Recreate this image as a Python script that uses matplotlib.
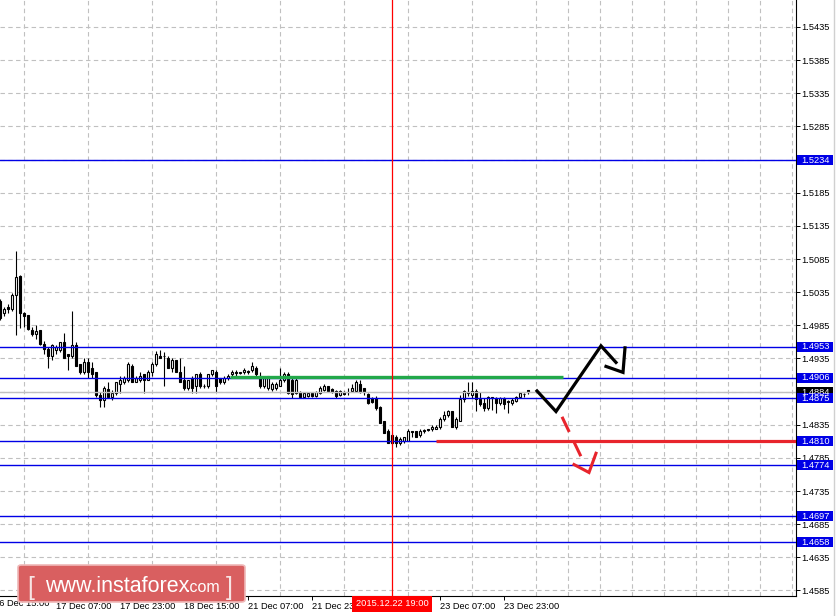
import matplotlib
matplotlib.use("Agg")
import matplotlib.pyplot as plt
import matplotlib.patches as patches
from matplotlib.lines import Line2D
from matplotlib.transforms import blended_transform_factory

plt.rcParams['font.family'] = ['Liberation Sans', 'DejaVu Sans']

# H1 candles, bar 0 = 16 Dec 17:00
opens = [1.5022, 1.5004, 1.5013, 1.5009, 1.5031, 1.5060, 1.5004, 1.5001, 1.4978, 1.4972,
         1.4978, 1.4957, 1.4950, 1.4939, 1.4948, 1.4948, 1.4960, 1.4941, 1.4939, 1.4956,
         1.4926, 1.4914, 1.4929, 1.4921, 1.4914, 1.4880, 1.4873, 1.4889, 1.4877, 1.4883,
         1.4896, 1.4900, 1.4903, 1.4924, 1.4900, 1.4902, 1.4911, 1.4903, 1.4914, 1.4926,
         1.4939, 1.4939, 1.4936, 1.4920, 1.4932, 1.4915, 1.4903, 1.4891, 1.4905, 1.4893,
         1.4912, 1.4894, 1.4893, 1.4912, 1.4915, 1.4905, 1.4899, 1.4905, 1.4911, 1.4914,
         1.4913, 1.4914, 1.4916, 1.4917, 1.4921, 1.4908, 1.4894, 1.4891, 1.4889, 1.4891,
         1.4894, 1.4903, 1.4912, 1.4903, 1.4883, 1.4885, 1.4877, 1.4879, 1.4883, 1.4879,
         1.4883, 1.4888, 1.4893, 1.4889, 1.4886, 1.4880, 1.4885, 1.4885, 1.4886, 1.4886,
         1.4897, 1.4891, 1.4882, 1.4876, 1.4876, 1.4862, 1.4840, 1.4826, 1.4819, 1.4817,
         1.4808, 1.4811, 1.4811, 1.4825, 1.4825, 1.4819, 1.4826, 1.4828, 1.4829, 1.4829,
         1.4832, 1.4844, 1.4850, 1.4855, 1.4832, 1.4841, 1.4874, 1.4884, 1.4880, 1.4886,
         1.4874, 1.4868, 1.4861, 1.4877, 1.4876, 1.4868, 1.4876, 1.4871, 1.4868, 1.4871,
         1.4877, 1.4882, 1.4887]
highs = [1.5025, 1.5013, 1.5017, 1.5034, 1.5097, 1.5061, 1.5005, 1.5001, 1.4983, 1.4986,
         1.4978, 1.4962, 1.4953, 1.4957, 1.4956, 1.4960, 1.4974, 1.4942, 1.5007, 1.4960,
         1.4927, 1.4936, 1.4936, 1.4930, 1.4915, 1.4885, 1.4893, 1.4899, 1.4888, 1.4900,
         1.4908, 1.4909, 1.4929, 1.4927, 1.4908, 1.4914, 1.4912, 1.4917, 1.4929, 1.4947,
         1.4948, 1.4945, 1.4938, 1.4935, 1.4933, 1.4936, 1.4923, 1.4903, 1.4908, 1.4912,
         1.4915, 1.4896, 1.4912, 1.4918, 1.4917, 1.4906, 1.4908, 1.4912, 1.4918, 1.4917,
         1.4915, 1.4920, 1.4918, 1.4929, 1.4923, 1.4914, 1.4908, 1.4909, 1.4900, 1.4899,
         1.4920, 1.4914, 1.4915, 1.4906, 1.4909, 1.4886, 1.4885, 1.4885, 1.4885, 1.4886,
         1.4894, 1.4896, 1.4894, 1.4891, 1.4888, 1.4888, 1.4886, 1.4891, 1.4896, 1.4903,
         1.4903, 1.4891, 1.4883, 1.4877, 1.4879, 1.4864, 1.4841, 1.4828, 1.4822, 1.4820,
         1.4816, 1.4817, 1.4828, 1.4826, 1.4826, 1.4828, 1.4828, 1.4829, 1.4834, 1.4834,
         1.4846, 1.4855, 1.4858, 1.4855, 1.4846, 1.4880, 1.4888, 1.4899, 1.4899, 1.4889,
         1.4885, 1.4876, 1.4879, 1.4877, 1.4877, 1.4877, 1.4877, 1.4873, 1.4876, 1.4879,
         1.4883, 1.4883, 1.4888]
lows = [1.4993, 1.4999, 1.5004, 1.5007, 1.4971, 1.4981, 1.4983, 1.4978, 1.4969, 1.4965,
        1.4956, 1.4941, 1.4920, 1.4933, 1.4941, 1.4945, 1.4936, 1.4917, 1.4936, 1.4923,
        1.4912, 1.4912, 1.4906, 1.4906, 1.4877, 1.4862, 1.4862, 1.4876, 1.4873, 1.4880,
        1.4883, 1.4896, 1.4900, 1.4899, 1.4899, 1.4899, 1.4883, 1.4902, 1.4908, 1.4923,
        1.4935, 1.4894, 1.4920, 1.4914, 1.4914, 1.4899, 1.4888, 1.4888, 1.4883, 1.4883,
        1.4891, 1.4891, 1.4891, 1.4909, 1.4885, 1.4897, 1.4897, 1.4903, 1.4908, 1.4909,
        1.4911, 1.4911, 1.4912, 1.4915, 1.4909, 1.4891, 1.4891, 1.4888, 1.4886, 1.4888,
        1.4893, 1.4900, 1.4882, 1.4876, 1.4882, 1.4876, 1.4876, 1.4877, 1.4877, 1.4877,
        1.4882, 1.4886, 1.4885, 1.4883, 1.4876, 1.4879, 1.4880, 1.4880, 1.4885, 1.4885,
        1.4883, 1.4880, 1.4867, 1.4868, 1.4858, 1.4837, 1.4822, 1.4807, 1.4805, 1.4802,
        1.4805, 1.4808, 1.4810, 1.4816, 1.4816, 1.4817, 1.4822, 1.4825, 1.4826, 1.4828,
        1.4829, 1.4841, 1.4847, 1.4831, 1.4829, 1.4840, 1.4870, 1.4879, 1.4876, 1.4856,
        1.4864, 1.4856, 1.4858, 1.4858, 1.4853, 1.4865, 1.4859, 1.4852, 1.4865, 1.4870,
        1.4876, 1.4877, 1.4881]
closes = [1.4996, 1.5010, 1.5009, 1.5031, 1.5058, 1.5004, 1.4999, 1.4980, 1.4972, 1.4977,
          1.4957, 1.4950, 1.4939, 1.4956, 1.4953, 1.4960, 1.4936, 1.4939, 1.4956, 1.4924,
          1.4914, 1.4929, 1.4914, 1.4912, 1.4880, 1.4873, 1.4891, 1.4877, 1.4883, 1.4899,
          1.4902, 1.4906, 1.4927, 1.4900, 1.4905, 1.4909, 1.4903, 1.4915, 1.4927, 1.4941,
          1.4936, 1.4938, 1.4921, 1.4932, 1.4915, 1.4900, 1.4891, 1.4902, 1.4891, 1.4911,
          1.4894, 1.4893, 1.4911, 1.4917, 1.4893, 1.4900, 1.4905, 1.4909, 1.4915, 1.4913,
          1.4914, 1.4917, 1.4915, 1.4924, 1.4911, 1.4894, 1.4905, 1.4908, 1.4896, 1.4896,
          1.4903, 1.4912, 1.4883, 1.4882, 1.4903, 1.4877, 1.4883, 1.4883, 1.4879, 1.4885,
          1.4891, 1.4893, 1.4886, 1.4885, 1.4879, 1.4886, 1.4882, 1.4884, 1.4891, 1.4899,
          1.4885, 1.4885, 1.4868, 1.4870, 1.4861, 1.4838, 1.4823, 1.4808, 1.4808, 1.4808,
          1.4813, 1.4816, 1.4826, 1.4824, 1.4817, 1.4825, 1.4827, 1.4827, 1.4832, 1.4832,
          1.4844, 1.4850, 1.4855, 1.4832, 1.4844, 1.4874, 1.4886, 1.4883, 1.4886, 1.4874,
          1.4867, 1.4861, 1.4877, 1.4876, 1.4868, 1.4876, 1.4867, 1.4870, 1.4873, 1.4877,
          1.4883, 1.4881, 1.4884]

# "22 Dec 15:00" sits under the red time marker, so it is left blank
tick_bars = [14, 30, 46, 62, 78, 94, 110, 126]
tick_labels = ["17 Dec 07:00", "17 Dec 23:00", "18 Dec 15:00", "21 Dec 07:00",
               "21 Dec 23:00", "", "23 Dec 07:00", "23 Dec 23:00"]
first_label_bar = -2
first_label = "16 Dec 15:00"

price_ticks = [1.4585, 1.4635, 1.4685, 1.4735, 1.4785, 1.4835, 1.4885, 1.4935, 1.4985,
               1.5035, 1.5085, 1.5135, 1.5185, 1.5235, 1.5285, 1.5335, 1.5385, 1.5435]
hidden_ticks = [1.4885, 1.5235]

blue_levels = [1.5234, 1.4953, 1.4906, 1.4875, 1.4774, 1.4697, 1.4658]
support_level = 1.4810
support_start = 109
resist_level = 1.4907
resist_span = [57.5, 140.75]
last_price = 1.4884
marker_bar = 98
marker_label = "2015.12.22 19:00"

# forecast arrows (bar, price)
up_x = [134.25, 139, 150.25, 154]
up_y = [1.4886, 1.4855, 1.4954, 1.4929]
up_head_x = [151.5, 155.75, 156.25]
up_head_y = [1.4923, 1.4914, 1.4951]
down_x = [140.5, 145.25]
down_y = [1.4847, 1.4787]
down_head_x = [143.5, 147.25, 149]
down_head_y = [1.4775, 1.4763, 1.4792]

BLUE = '#0000e6'
RED = '#e8242c'
GREEN = '#22a84a'

fig = plt.figure(figsize=(8.37, 6.16), dpi=100)
ax = fig.add_axes([0, 20 / 616, 796 / 837, 596 / 616])
ax.set_xlim(0, 199)
ax.set_ylim(1.45767, 1.54757)

for s in ['top', 'left']:
    ax.spines[s].set_visible(False)
for s in ['right', 'bottom']:
    ax.spines[s].set_linewidth(0.8)

# grid
ax.set_xticks(list(range(6, 199, 8)), minor=True)
ax.set_xticks(tick_bars)
ax.set_xticklabels(tick_labels, fontsize=6.7, ha='left')
ax.set_yticks(price_ticks)
ax.set_yticklabels(["" if p in hidden_ticks else "%.4f" % p for p in price_ticks],
                   fontsize=6.7)
ax.yaxis.tick_right()
ax.tick_params(axis='y', length=3, width=0.7, pad=1)
ax.tick_params(axis='x', which='major', length=3, width=0.7, pad=1.5)
ax.tick_params(axis='x', which='minor', length=0)
ax.grid(True, which='minor', axis='x', color='#c0c0c0', linestyle=(0, (4, 3)), lw=0.8)
ax.grid(True, which='major', axis='y', color='#c0c0c0', linestyle=(0, (4, 3)), lw=0.8)
ax.set_axisbelow(True)

xf = blended_transform_factory(ax.transData, ax.transAxes)
ax.text(first_label_bar + 0.4, -0.0134, first_label, transform=xf, fontsize=6.7,
        ha='left', va='center', clip_on=False)

# candles
W = 0.55
for i, (o, h, l, c) in enumerate(zip(opens, highs, lows, closes)):
    ax.vlines(i, l, h, color='black', lw=0.8, zorder=3)
    bottom = min(o, c)
    height = max(abs(c - o), 0.00004)
    fc = 'white' if c >= o else 'black'
    ax.add_patch(patches.Rectangle((i - W / 2, bottom), W, height, facecolor=fc,
                                   edgecolor='black', lw=0.8, zorder=4))

# horizontal levels
ax.axhline(last_price, color='#c0c0c0', lw=1, zorder=5)
for lv in blue_levels:
    ax.axhline(lv, color=BLUE, lw=1, zorder=5)
ax.plot([0, support_start], [support_level, support_level], color=BLUE, lw=1, zorder=5)
ax.plot([support_start, 199], [support_level, support_level], color=RED, lw=2.3,
        zorder=6, solid_capstyle='butt')
ax.plot(resist_span, [resist_level, resist_level], color=GREEN, lw=2.4, zorder=6,
        solid_capstyle='butt')
ax.axvline(marker_bar, color='red', lw=0.9, zorder=6)

# forecast arrows
ax.plot(up_x, up_y, color='black', lw=2.3, zorder=7, solid_joinstyle='miter')
ax.plot(up_head_x, up_head_y, color='black', lw=2.3, zorder=7, solid_joinstyle='miter')
ax.plot(down_x, down_y, color=RED, lw=2.2, zorder=7, linestyle=(0, (5.5, 3.3)))
ax.plot(down_head_x, down_head_y, color=RED, lw=2.2, zorder=7, solid_joinstyle='miter')

# price labels on the right scale
yf = blended_transform_factory(ax.transAxes, ax.transData)
bh = 10 / 6635.0


def price_box(level, face):
    ax.add_patch(patches.Rectangle((1 + 1 / 796, level - bh / 2), 36 / 796, bh,
                                   transform=yf, facecolor=face, edgecolor='none',
                                   clip_on=False, zorder=10))
    ax.text(1 + 5 / 796, level, "%.4f" % level, transform=yf, color='white',
            fontsize=6.7, ha='left', va='center', clip_on=False, zorder=11)


price_box(last_price, 'black')
for lv in blue_levels + [support_level]:
    price_box(lv, BLUE)

ax.text(marker_bar, -0.0134, marker_label, transform=xf, color='white', fontsize=6.7,
        ha='center', va='center', clip_on=False, zorder=12,
        bbox=dict(boxstyle='square,pad=0.35', facecolor='red', edgecolor='none'))

# right border
fig.add_artist(Line2D([834 / 837, 834 / 837], [0, 1], color='#d0d0d0', lw=1))

# logo
logo = patches.FancyBboxPatch((18 / 837, 14 / 616), 227 / 837, 37 / 616,
                              boxstyle='round,pad=0,rounding_size=0.004',
                              transform=fig.transFigure, facecolor='#d95f60',
                              edgecolor='#efb8b8', lw=1.2, zorder=20)
fig.add_artist(logo)
base = (616 - 592) / 616
fig.text(27 / 837, (616 - 595) / 616, "[", fontsize=18, color='#f7e4e4', zorder=21)
fig.text(45 / 837, base, "www.instaforex", fontsize=15.5, color='white', zorder=21)
fig.text(186 / 837, base, ".com", fontsize=11.5, color='white', zorder=21)
fig.text(226 / 837, (616 - 595) / 616, "]", fontsize=18, color='#f7e4e4', zorder=21)

fig.savefig('out.png', dpi=100)
